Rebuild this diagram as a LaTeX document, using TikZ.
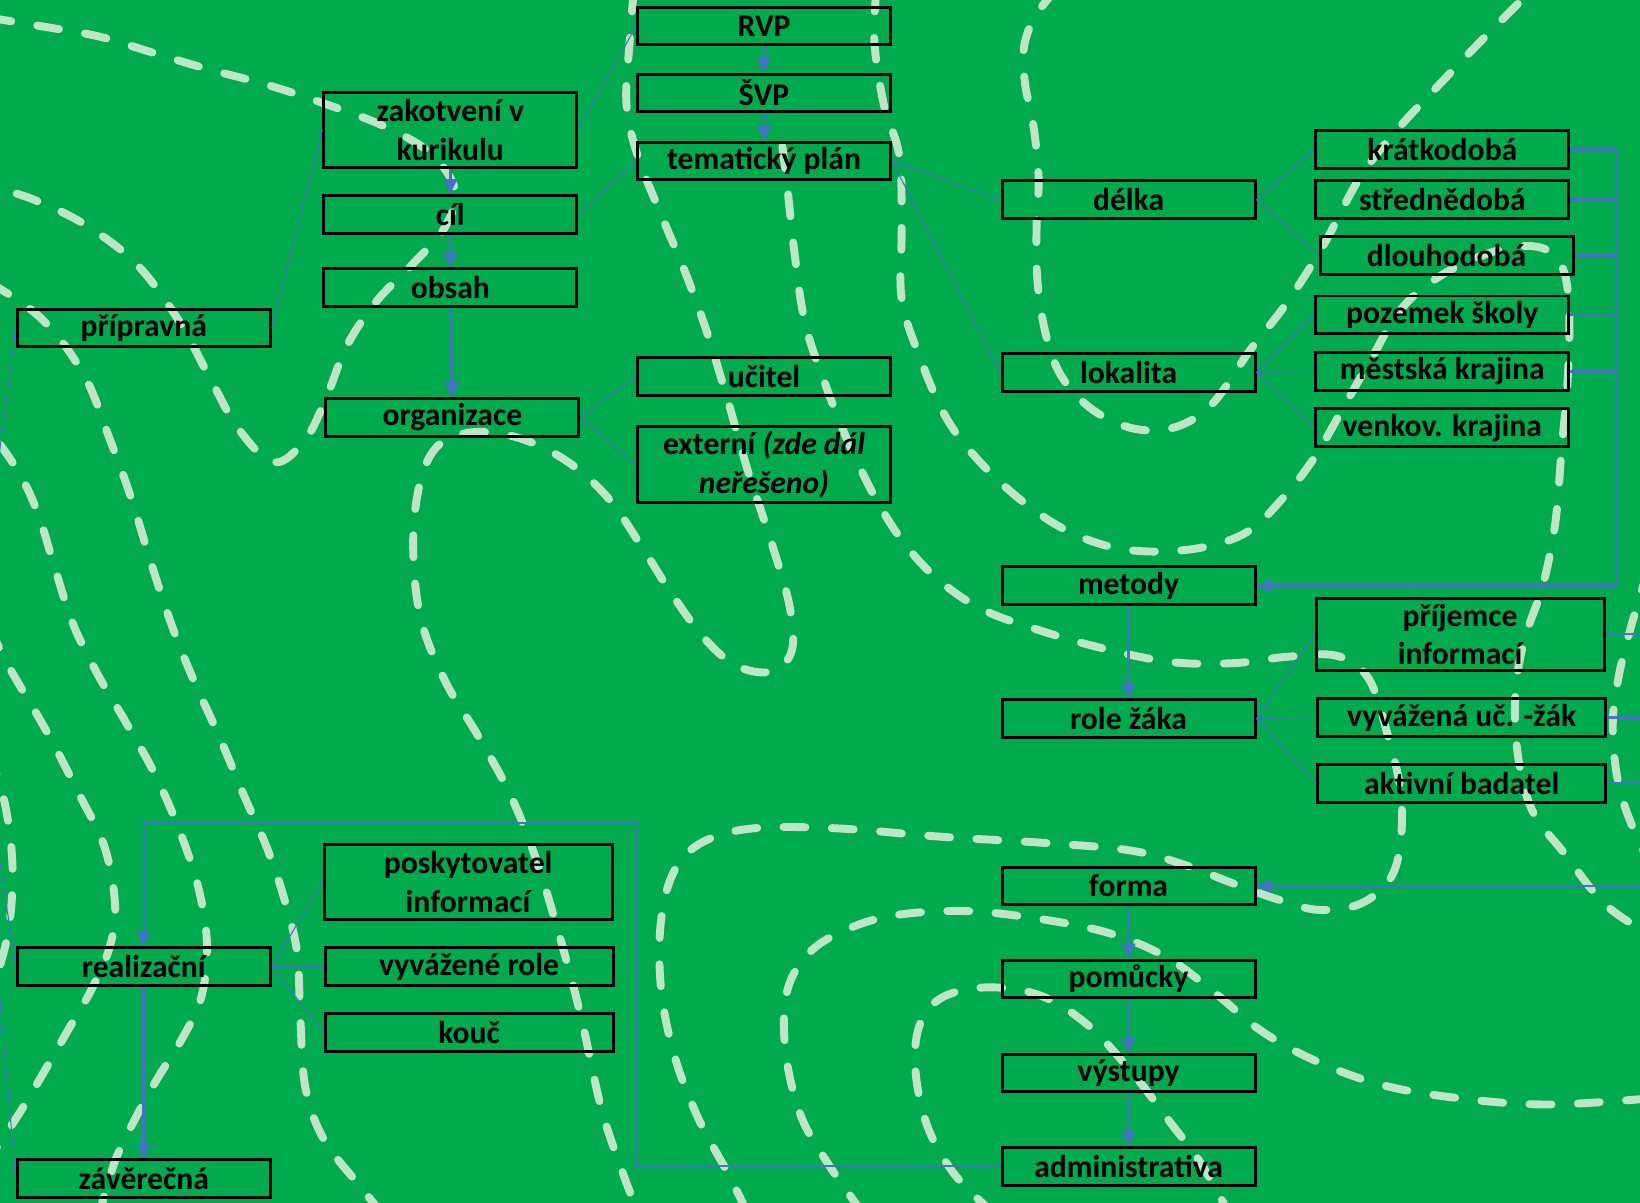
\documentclass[tikz,border=0pt]{standalone}
\usepackage{fontspec}
\setmainfont{Carlito}
\usetikzlibrary{arrows.meta,positioning}
\definecolor{meadow}{HTML}{00AB4E}
\definecolor{trailcol}{HTML}{BEE5C5}
\definecolor{linkblue}{HTML}{4472C4}

\begin{document}
\begin{tikzpicture}[x=0.02092cm, y=-0.02092cm, font=\fontsize{18}{22}\selectfont\bfseries, >={Triangle[length=3mm,width=2.7mm]},
  stage/.style={draw=black, line width=1.7pt, minimum width=5.06cm, minimum height=0.753cm, inner sep=0pt, align=center},
  wide/.style={stage, minimum width=5.76cm},
  tall/.style={minimum height=1.506cm},
  branch/.style={draw=linkblue, line width=0.6pt},
  flow/.style={draw=linkblue, line width=1.5pt, ->},
  link/.style={draw=linkblue, line width=1.2pt},
  bracket/.style={draw=linkblue, line width=1.6pt},
  trail/.style={draw=trailcol, line width=4.5pt, line cap=round, dash pattern=on 12.5pt off 15pt}]
  \useasboundingbox (0,0) rectangle (1568,1150);
  \fill[meadow] (0,0) rectangle (1568,1150);

  \begin{scope}
    \clip (0,0) rectangle (1568,1150);
    \draw[trail] plot[smooth, tension=0.6] coordinates {(-10,17) (45,26) (95,35) (145,50) (195,65) (255,81) (310,99) (368,121) (412,147) (435,182) (425,218) (395,252) (360,288) (332,330) (312,380) (292,420) (262,442) (228,410) (200,360) (170,305) (130,252) (80,214) (30,190) (-10,178)};
    \draw[trail] plot[smooth, tension=0.6] coordinates {(-10,270) (40,305) (80,358) (105,420) (125,475) (145,540) (165,600) (185,650) (210,705) (233,760) (255,810) (272,860) (284,910) (287,970) (292,1040) (310,1090) (345,1135) (365,1160)};
    \draw[trail] plot[smooth, tension=0.6] coordinates {(0,425) (20,455) (37,493) (53,545) (70,597) (93,644) (120,690) (148,740) (172,795) (190,850) (198,905) (192,955) (173,995) (150,1032) (128,1072) (110,1110) (95,1160)};
    \draw[trail] plot[smooth, tension=0.6] coordinates {(-10,600) (10,640) (45,700) (75,758) (100,810) (110,865) (105,905) (88,945) (65,985) (42,1025) (20,1062) (-5,1100)};
    \draw[trail] plot[smooth, tension=0.6] coordinates {(-10,720) (5,770) (12,830) (8,890) (-5,940)};
    \draw[trail] plot[smooth, tension=0.6] coordinates {(606,-10) (602,40) (599,100) (610,150) (632,205) (655,260) (675,315) (695,380) (715,450) (738,520) (755,580) (757,622) (738,642) (705,637) (675,612) (645,572) (615,525) (583,478) (545,443) (500,420) (455,413) (420,425) (402,460) (395,520) (402,590) (425,650) (458,705) (488,760) (512,820) (535,895) (555,970) (575,1060) (595,1120) (610,1160)};
    \draw[trail] plot[smooth, tension=0.6] coordinates {(1010,-10) (990,15) (979,45) (980,80) (988,120) (993,170) (991,220) (992,270) (1000,320) (1015,360) (1045,392) (1085,410) (1125,408) (1160,385) (1195,335) (1230,290) (1265,235) (1300,170) (1335,125) (1375,82) (1420,35) (1460,-5)};
    \draw[trail] plot[smooth, tension=0.6] coordinates {(838,-10) (836,40) (845,100) (860,150) (862,220) (862,285) (878,338) (905,400) (940,445) (985,485) (1030,512) (1080,526) (1140,525) (1190,510) (1225,478) (1257,437) (1287,385) (1310,345) (1340,295) (1380,262) (1430,240) (1470,236) (1492,252) (1500,290) (1499,360) (1493,430) (1487,500) (1475,560) (1458,610) (1449,660) (1451,720) (1465,775) (1495,815) (1535,865) (1580,895)};
    \draw[trail] plot[smooth, tension=0.6] coordinates {(1590,500) (1562,590) (1547,650) (1542,700) (1550,760) (1575,820) (1600,850)};
    \draw[trail] plot[smooth, tension=0.6] coordinates {(748,140) (752,172) (760,245) (770,310) (790,370) (812,425) (838,478) (865,520) (898,555) (940,583) (995,603) (1055,620) (1120,633) (1180,634) (1230,628) (1278,627) (1308,648) (1326,700) (1340,765) (1334,830) (1305,862) (1262,870) (1222,860) (1180,845) (1130,826) (1080,813) (1000,806) (900,800) (800,792) (720,792) (672,805) (645,832) (632,880) (632,945) (645,1010) (668,1070) (695,1120) (715,1160)};
    \draw[trail] plot[smooth, tension=0.6] coordinates {(825,1160) (790,1110) (765,1065) (751,1005) (752,950) (770,915) (800,893) (850,876) (920,871) (990,878) (1060,892) (1115,915) (1160,948) (1205,985) (1255,1013) (1320,1037) (1395,1050) (1480,1056) (1580,1050)};
    \draw[trail] plot[smooth, tension=0.6] coordinates {(950,1160) (912,1122) (886,1075) (875,1020) (880,978) (902,953) (945,944) (995,952) (1040,980) (1082,1025) (1118,1072) (1148,1112) (1175,1160)};
  \end{scope}

  \node[stage] (rvp) at (730.5,25) {RVP};
  \node[stage] (svp) at (730.5,89) {ŠVP};
  \node[stage] (tema) at (730.5,154) {tematický plán};
  \node[stage, tall] (zakot) at (430.5,124) {zakotvení v\\kurikulu};
  \node[stage] (cil) at (430.5,205) {cíl};
  \node[stage] (obsah) at (430.5,275) {obsah};
  \node[stage] (prip) at (137.5,313.5) {přípravná};
  \node[stage] (org) at (432.5,399) {organizace};
  \node[stage] (ucitel) at (730.5,360) {učitel};
  \node[stage, tall] (externi) at (730.5,444) {externí \textit{(zde dál}\\\textit{neřešeno)}};
  \node[stage] (delka) at (1079,191) {délka};
  \node[stage] (lokalita) at (1079,356) {lokalita};
  \node[stage] (kratko) at (1379,143) {krátkodobá};
  \node[stage] (stredne) at (1379,191) {střednědobá};
  \node[stage] (dlouho) at (1383,244) {dlouhodobá};
  \node[stage] (pozemek) at (1379,301) {pozemek školy};
  \node[stage] (mestska) at (1379,355) {městská krajina};
  \node[stage] (venkov) at (1379,409) {venkov. krajina};
  \node[stage] (metody) at (1079,560) {metody};
  \node[wide, minimum height=1.443cm] (prijemce) at (1396,606.5) {příjemce\\informací};
  \node[stage] (role) at (1079,687) {role žáka};
  \node[wide] (vyvazena) at (1397.5,686) {vyvážená uč. -žák};
  \node[wide] (aktivni) at (1397.5,749) {aktivní badatel};
  \node[stage] (forma) at (1079,847) {forma};
  \node[stage] (pomucky) at (1079,936) {pomůcky};
  \node[stage] (vystupy) at (1079,1026) {výstupy};
  \node[stage] (admin) at (1079,1115) {administrativa};
  \node[wide, tall] (poskyt) at (447.5,843) {poskytovatel\\informací};
  \node[wide] (vyvrole) at (448.5,924) {vyvážené role};
  \node[wide] (kouc) at (448.5,987) {kouč};
  \node[stage] (realiz) at (137.5,924) {realizační};
  \node[stage] (zaver) at (137.5,1127) {závěrečná};

  \coordinate (outing) at (-28,643);
  \coordinate (metbus) at (1546,560);
  \coordinate (formbus) at (1600,847);
  \coordinate (loopturn) at (608,787);

  \foreach \k in {prip,realiz,zaver} \draw[branch] (outing) -- (\k.west);
  \draw[branch] (prip.east) -- (zakot.west);
  \draw[branch] (zakot.east) -- (rvp.west);
  \draw[branch] (cil.east) -- (tema.west);
  \draw[flow] (rvp) -- (svp);
  \draw[flow] (svp) -- (tema);
  \draw[flow] (zakot) -- (cil);
  \draw[flow] (cil) -- (obsah);
  \draw[flow] (obsah) -- (org);
  \draw[branch] (org.east) -- (ucitel.west);
  \draw[branch] (org.east) -- (externi.west);
  \draw[branch] (tema.east) -- (delka.west);
  \draw[branch] (tema.east) -- (lokalita.west);
  \foreach \k in {kratko,stredne,dlouho} \draw[branch] (delka.east) -- (\k.west);
  \foreach \k in {pozemek,mestska,venkov} \draw[branch] (lokalita.east) -- (\k.west);
  \foreach \k in {kratko,stredne,dlouho,pozemek,mestska} \draw[bracket] (\k.east) -| (metbus);
  \draw[bracket, ->] (metbus) -- (metody.east);
  \draw[flow] (metody) -- (role);
  \foreach \k in {prijemce,vyvazena,aktivni} \draw[branch] (role.east) -- (\k.west);
  \foreach \k in {prijemce,vyvazena,aktivni} \draw[link] (\k.east) -| (formbus);
  \draw[link, ->] (formbus) -- (forma.east);
  \draw[flow] (forma) -- (pomucky);
  \draw[flow] (pomucky) -- (vystupy);
  \draw[flow] (vystupy) -- (admin);
  \draw[link, ->] (admin.west) -| (loopturn) -| (realiz.north);
  \draw[flow] (realiz) -- (zaver);
  \foreach \k in {poskyt,vyvrole,kouc} \draw[branch] (realiz.east) -- (\k.west);
\end{tikzpicture}
\end{document}
